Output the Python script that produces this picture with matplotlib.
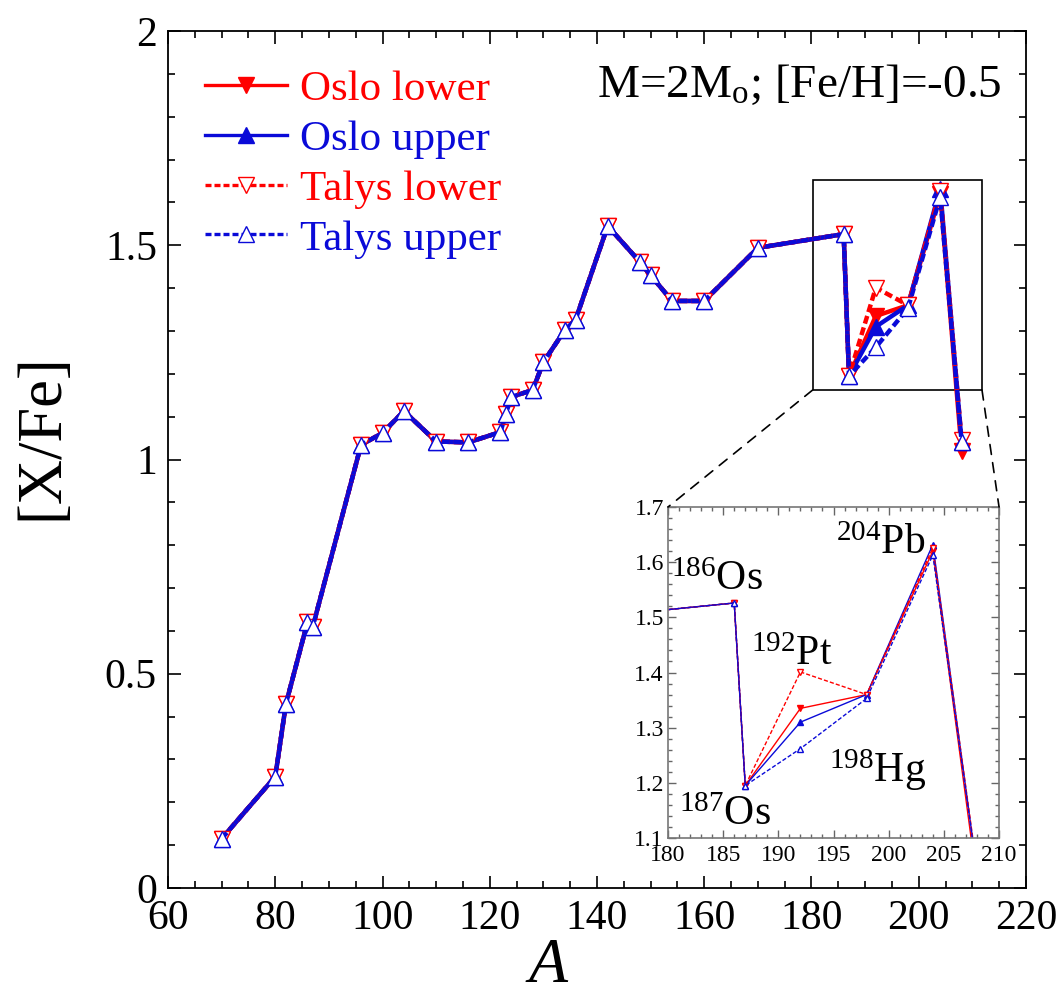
import matplotlib
matplotlib.use('Agg')
import matplotlib.pyplot as plt
from matplotlib.patches import Rectangle, ConnectionPatch
from matplotlib.ticker import MultipleLocator

# mass numbers and [X/Fe] values
A = [70, 80, 82, 86, 87, 96, 100, 104, 110, 116, 122, 123, 124, 128, 130,
     134, 136, 142, 148, 150, 154, 160, 170, 186, 187, 192, 198, 204, 208]

oslo_lower = [0.115, 0.26, 0.43, 0.62, 0.61, 1.034, 1.062, 1.113, 1.042, 1.040,
              1.064, 1.106, 1.146, 1.162, 1.227, 1.302, 1.326, 1.545, 1.461, 1.430,
              1.370, 1.370, 1.494, 1.526, 1.195, 1.335, 1.360, 1.620, 1.020]
oslo_upper = [0.115, 0.26, 0.43, 0.62, 0.61, 1.034, 1.062, 1.113, 1.042, 1.040,
              1.064, 1.106, 1.146, 1.162, 1.227, 1.302, 1.326, 1.545, 1.461, 1.430,
              1.370, 1.370, 1.494, 1.526, 1.195, 1.310, 1.360, 1.632, 1.040]
talys_lower = [0.115, 0.26, 0.43, 0.62, 0.61, 1.034, 1.062, 1.113, 1.042, 1.040,
               1.064, 1.106, 1.146, 1.162, 1.227, 1.302, 1.326, 1.545, 1.461, 1.430,
               1.370, 1.370, 1.494, 1.526, 1.195, 1.401, 1.360, 1.626, 1.045]
talys_upper = [0.115, 0.26, 0.43, 0.62, 0.61, 1.034, 1.062, 1.113, 1.042, 1.040,
               1.064, 1.106, 1.146, 1.162, 1.227, 1.302, 1.326, 1.545, 1.461, 1.430,
               1.370, 1.370, 1.494, 1.526, 1.195, 1.262, 1.353, 1.613, 1.040]

labels = ['Oslo lower', 'Oslo upper', 'Talys lower', 'Talys upper']

# isotope labels in the inset: (text, x, y)
isotopes = [(r'$^{186}$Os', 180.3, 1.549), (r'$^{187}$Os', 181.0, 1.124),
            (r'$^{192}$Pt', 187.5, 1.413), (r'$^{198}$Hg', 194.6, 1.202),
            (r'$^{204}$Pb', 195.2, 1.615)]

RED = '#ff0000'
BLUE = '#0a0ad8'

plt.rcParams['font.family'] = ['Liberation Serif', 'DejaVu Serif']
plt.rcParams['mathtext.fontset'] = 'custom'
plt.rcParams['mathtext.rm'] = 'Liberation Serif'
plt.rcParams['mathtext.it'] = 'Liberation Serif:italic'

fig = plt.figure(figsize=(10.6, 10), dpi=100)
ax = fig.add_axes([0.1585, 0.112, 0.8094, 0.857])


def draw_series(a, lw, ms, dash):
    a.plot(A, oslo_lower, '-', color=RED, lw=lw, marker='v', ms=ms,
           mfc=RED, mec=RED, label=labels[0])
    a.plot(A, oslo_upper, '-', color=BLUE, lw=lw, marker='^', ms=ms,
           mfc=BLUE, mec=BLUE, label=labels[1])
    a.plot(A, talys_lower, '--', color=RED, lw=lw, marker='v', ms=ms,
           mfc='white', mec=RED, dashes=dash, label=labels[2])
    a.plot(A, talys_upper, '--', color=BLUE, lw=lw, marker='^', ms=ms,
           mfc='white', mec=BLUE, dashes=dash, label=labels[3])


draw_series(ax, 3.2, 12, (1.8, 0.9))

ax.set_xlim(60, 220)
ax.set_ylim(0, 2)
ax.xaxis.set_major_locator(MultipleLocator(20))
ax.xaxis.set_minor_locator(MultipleLocator(5))
ax.yaxis.set_major_locator(MultipleLocator(0.5))
ax.yaxis.set_minor_locator(MultipleLocator(0.1))
ax.set_yticks([0, 0.5, 1, 1.5, 2])
ax.set_yticklabels(['0', '0.5', '1', '1.5', '2'])
ax.tick_params(which='both', direction='in', top=True, right=True, labelsize=30, width=1.2)
ax.tick_params(which='major', length=9, pad=8)
ax.tick_params(which='minor', length=5)
for s in ax.spines.values():
    s.set_linewidth(1.3)

ax.set_xlabel('A', fontsize=46, style='italic')
ax.xaxis.set_label_coords(0.443, -0.058)
ax.set_ylabel('[X/Fe]', fontsize=45)
ax.yaxis.set_label_coords(-0.113, 0.527)

leg = ax.legend(loc='upper left', bbox_to_anchor=(0.008, 0.99), frameon=False,
                fontsize=31, handlelength=1.9, handletextpad=0.3,
                labelspacing=0.25, borderpad=0.2, labelcolor='linecolor')
for h in leg.legend_handles:
    h.set_linewidth(2.4)

ax.text(0.972, 0.923, r'M=2M$_{\rm o}$; [Fe/H]=-0.5', transform=ax.transAxes,
        ha='right', va='baseline', fontsize=34)

# zoom box
ax.add_patch(Rectangle((180.2, 1.162), 31.6, 0.49, fill=False, ec='black', lw=1.2))

# inset
axins = fig.add_axes([0.6302, 0.162, 0.3123, 0.331])
draw_series(axins, 1.0, 5, (3, 1.5))
axins.set_xlim(180, 210)
axins.set_ylim(1.1, 1.7)
axins.xaxis.set_major_locator(MultipleLocator(5))
axins.xaxis.set_minor_locator(MultipleLocator(1))
axins.yaxis.set_major_locator(MultipleLocator(0.1))
axins.yaxis.set_minor_locator(MultipleLocator(0.02))
axins.tick_params(which='both', direction='in', top=True, right=True, labelsize=17,
                  color='#666666', width=1)
axins.tick_params(which='major', length=6)
axins.tick_params(axis='x', which='major', pad=5)
axins.tick_params(axis='y', which='major', pad=3)
axins.tick_params(which='minor', length=3)
for s in axins.spines.values():
    s.set_color('#777777')
    s.set_linewidth(1.2)

for txt, x, y in isotopes:
    axins.text(x, y, txt, fontsize=30, ha='left', va='baseline')

# dashed connectors from the zoom box to the inset
for xa, xb in [(180.2, 0), (211.8, 1)]:
    con = ConnectionPatch(xyA=(xa, 1.162), coordsA=ax.transData,
                          xyB=(xb, 1.0), coordsB=axins.transAxes,
                          ls=(0, (6, 5)), lw=1.2, color='black')
    fig.add_artist(con)

fig.savefig('out.png', dpi=100)
